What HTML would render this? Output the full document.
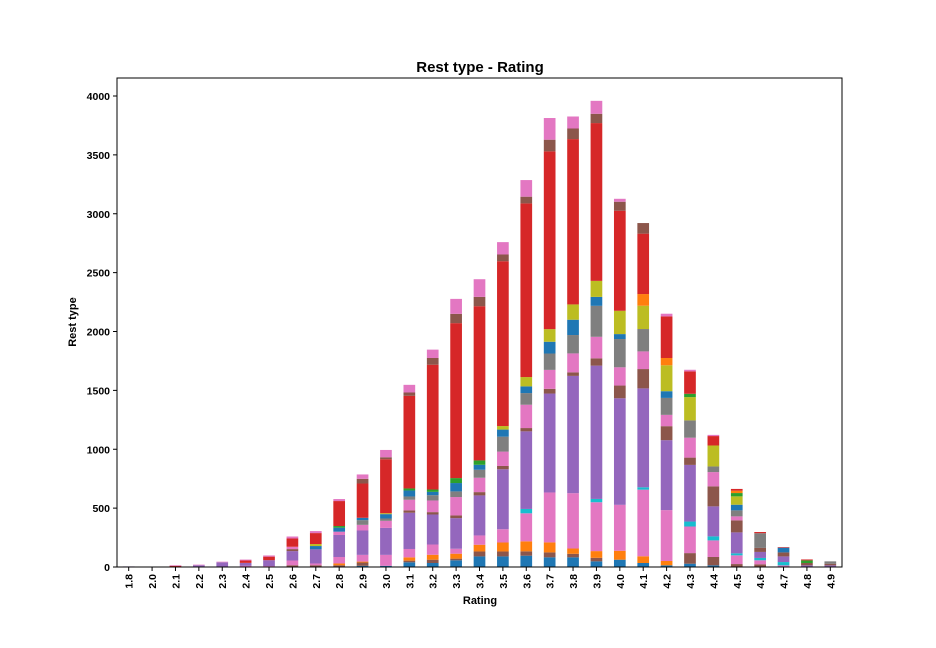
<!DOCTYPE html>
<html><head><meta charset="utf-8"><style>
body{margin:0;background:#fff;}
svg{display:block;font-family:"Liberation Sans",sans-serif;}
</style></head><body>
<svg id="chart" width="936" height="648">
<text x="480" y="72" text-anchor="middle" font-size="15" font-weight="bold">Rest type - Rating</text>
<text transform="translate(76,322) rotate(-90)" text-anchor="middle" font-size="11" font-weight="bold">Rest type</text>
<text x="480" y="604" text-anchor="middle" font-size="11" font-weight="bold">Rating</text>
<g id="bars"></g>
<g id="axes"></g>
</svg>
<script>
const categories=["1.8","2.0","2.1","2.2","2.3","2.4","2.5","2.6","2.7","2.8","2.9","3.0","3.1","3.2","3.3","3.4","3.5","3.6","3.7","3.8","3.9","4.0","4.1","4.2","4.3","4.4","4.5","4.6","4.7","4.8","4.9"];
const yTicks=[0,500,1000,1500,2000,2500,3000,3500,4000];
const seriesNames=["A","B","C","D","E","F","G","H","I","J","K","L","M","N","O","P"];
const seriesColors=["#1f77b4","#8c564b","#ff7f0e","#e377c2","#17becf","#9467bd","#8c564b","#e377c2","#7f7f7f","#1f77b4","#bcbd22","#2ca02c","#ff7f0e","#d62728","#8c564b","#e377c2"];
const sA=[0,0,0,0,0,0,0,0,0,0,10,10,40,34,57,90,90,96,82,82,48,62,34,14,28,14,0,0,0,0,0];
const sB=[0,0,0,0,0,0,0,15,15,15,28,0,14,28,14,42,42,37,42,30,30,0,0,0,90,71,25,23,0,0,0];
const sC=[0,0,0,0,0,0,0,0,0,15,8,0,28,42,42,57,76,85,85,45,57,76,57,37,0,0,0,0,0,0,0];
const sD=[0,0,0,0,0,10,8,40,15,55,57,93,71,87,42,79,113,238,424,470,415,390,566,432,226,141,74,34,14,0,0];
const sE=[0,0,0,0,0,0,0,0,0,0,0,0,0,0,0,0,0,37,0,0,28,0,20,0,42,34,17,20,28,0,0];
const sF=[5,4,0,15,40,25,50,80,120,187,207,229,308,255,260,340,509,659,840,996,1132,905,840,594,481,255,178,51,48,14,14];
const sG=[0,0,0,0,0,0,0,17,0,0,0,0,20,20,23,28,28,28,40,30,62,108,164,119,62,170,102,34,34,20,14];
const sH=[0,0,0,0,0,0,0,20,0,28,48,60,90,99,156,122,122,198,161,161,183,155,150,96,169,121,34,0,0,0,0];
const sI=[0,0,0,0,0,0,0,0,0,0,40,20,28,45,48,68,127,99,139,156,263,240,190,144,147,48,51,125,0,0,20];
const sJ=[0,0,0,0,0,0,0,0,28,34,20,37,51,28,71,42,60,57,100,130,76,42,0,57,0,0,48,0,40,0,0];
const sK=[0,0,0,0,0,0,0,0,17,0,0,8,0,0,0,0,30,79,107,130,136,198,198,220,198,178,71,0,0,0,0];
const sL=[0,0,0,0,0,0,0,0,0,14,0,0,17,20,42,37,0,0,0,0,0,0,0,0,28,0,28,0,0,22,0];
const sM=[0,0,0,0,0,0,0,0,0,0,0,0,0,0,0,0,0,0,0,0,0,0,99,62,0,0,20,0,0,0,0];
const sN=[0,0,10,0,0,20,30,70,93,212,291,458,787,1060,1316,1310,1400,1475,1510,1404,1340,850,513,353,190,80,15,10,5,8,0];
const sO=[0,0,0,0,0,0,0,0,0,0,40,17,28,57,79,79,57,57,99,90,79,76,90,0,0,0,0,0,0,0,0];
const sP=[0,0,5,5,5,8,10,17,17,17,37,62,65,71,127,150,105,141,184,102,110,25,0,23,14,10,0,0,0,0,0];
const seriesValues=[sA,sB,sC,sD,sE,sF,sG,sH,sI,sJ,sK,sL,sM,sN,sO,sP];

const NS="http://www.w3.org/2000/svg";
const L=117,R=842,T=78,B=567;
const step=(R-L)/categories.length, bw=step*0.5;
function xC(i){return L+step*(i+0.5);}
function yV(v){return B-v*(B-96)/4000;}
const bars=document.getElementById('bars'), axes=document.getElementById('axes');
function mk(tag,attrs,parent){const e=document.createElementNS(NS,tag);for(const k in attrs)e.setAttribute(k,attrs[k]);parent.appendChild(e);return e;}
categories.forEach((c,i)=>{
  let cum=0;
  seriesValues.forEach((arr,s)=>{
    const v=arr[i]; if(!v)return;
    const r=mk('rect',{x:xC(i)-bw/2,y:yV(cum+v),width:bw,height:yV(cum)-yV(cum+v),fill:seriesColors[s]},bars);
    
    
    cum+=v;
  });
  const t=mk('line',{x1:xC(i),x2:xC(i),y1:B,y2:B+4,stroke:'#000'},axes);
  
  
  const lb=mk('text',{transform:`translate(${xC(i)+4},${B+7}) rotate(-90)`,'text-anchor':'end','font-size':'10.5','font-weight':'bold'},axes);
  lb.textContent=c;
  
  
});
yTicks.forEach(v=>{
  const t=mk('line',{x1:L-4,x2:L,y1:yV(v),y2:yV(v),stroke:'#000'},axes);
  
  
  const lb=mk('text',{x:L-7,y:yV(v)+4,'text-anchor':'end','font-size':'10.5','font-weight':'bold'},axes);
  lb.textContent=v;
  
  
});
const fr=mk('rect',{x:L,y:T,width:R-L,height:B-T,fill:'none',stroke:'#000','stroke-width':1},axes);


</script>
</body></html>
